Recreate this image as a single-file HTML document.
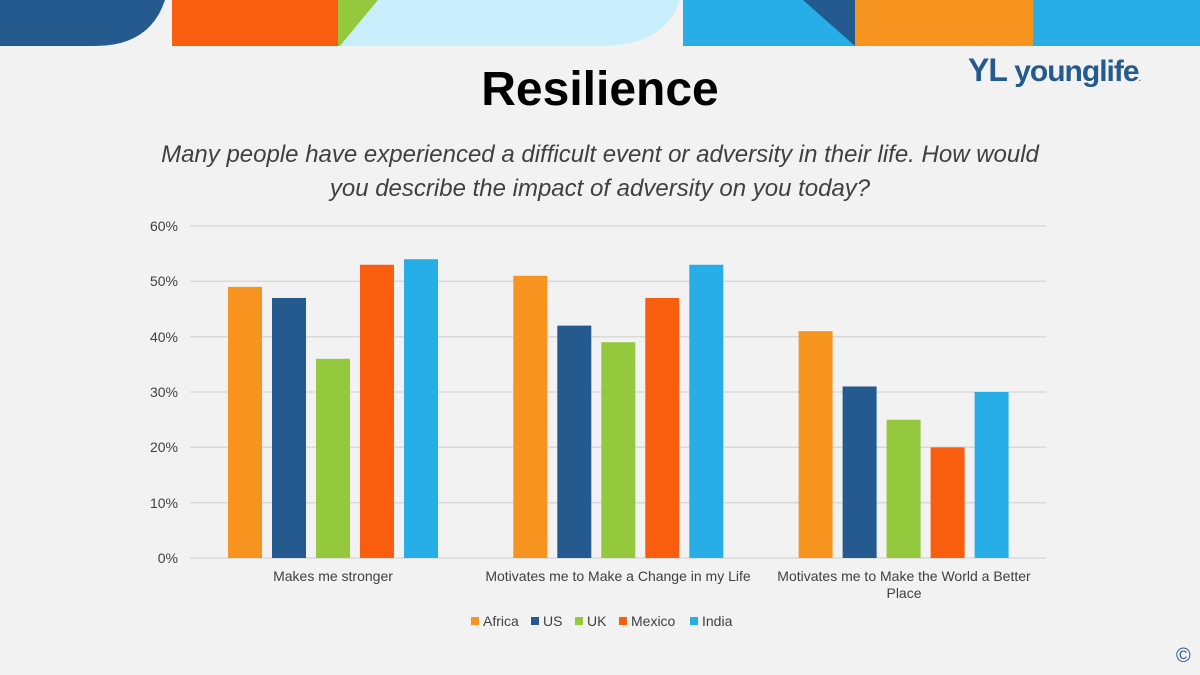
<!DOCTYPE html>
<html><head><style>
body{margin:0;width:1200px;height:675px;background:#f2f2f2;position:relative;overflow:hidden;font-family:"Liberation Sans",sans-serif}
.t{position:absolute}
</style></head><body>
<svg class="t" style="left:0;top:0" width="1200" height="675">
<path d="M0 0H165Q150 46 95 46H0Z" fill="#245a8e"/>
<rect x="172" y="0" width="166" height="46" fill="#f95e0e"/>
<path d="M338 0H378L340 46H338Z" fill="#94c83d"/>
<path d="M378 0H680Q665 46 600 46H340Z" fill="#c9eefc"/>
<rect x="683" y="0" width="172" height="46" fill="#27aee6"/>
<path d="M803 0H855V46Z" fill="#245a8e"/>
<rect x="855" y="0" width="178" height="46" fill="#f7941f"/>
<rect x="1033" y="0" width="167" height="46" fill="#27aee6"/>
<g stroke="#d9d9d9" stroke-width="1.5">
<line x1="190" x2="1046" y1="226" y2="226"/><line x1="190" x2="1046" y1="281.3" y2="281.3"/>
<line x1="190" x2="1046" y1="336.7" y2="336.7"/><line x1="190" x2="1046" y1="392" y2="392"/>
<line x1="190" x2="1046" y1="447.3" y2="447.3"/><line x1="190" x2="1046" y1="502.7" y2="502.7"/>
<line x1="190" x2="1046" y1="558" y2="558"/></g>
<g font-size="14" fill="#404040" text-anchor="end">
<text x="178" y="231">60%</text><text x="178" y="286">50%</text><text x="178" y="342">40%</text>
<text x="178" y="397">30%</text><text x="178" y="452">20%</text><text x="178" y="508">10%</text><text x="178" y="563">0%</text></g>
<g id="bars"></g>
<g font-size="14" fill="#404040" text-anchor="middle">
<text x="333" y="581">Makes me stronger</text>
<text x="618" y="581">Motivates me to Make a Change in my Life</text>
<text x="904" y="581">Motivates me to Make the World a Better</text>
<text x="904" y="598">Place</text></g>
<g font-size="14" fill="#404040">
<rect x="471" y="617" width="8" height="8" fill="#f7941f"/><text x="483" y="626">Africa</text>
<rect x="531" y="617" width="8" height="8" fill="#245a8e"/><text x="543" y="626">US</text>
<rect x="575" y="617" width="8" height="8" fill="#94c83d"/><text x="587" y="626">UK</text>
<rect x="619" y="617" width="8" height="8" fill="#f95e0e"/><text x="631" y="626">Mexico</text>
<rect x="690" y="617" width="8" height="8" fill="#27aee6"/><text x="702" y="626">India</text></g>
</svg>
<div class="t" style="left:0;width:1200px;top:62px;text-align:center;font-size:48px;font-weight:bold;color:#000">Resilience</div>
<div class="t" style="left:50px;width:1100px;top:138px;text-align:center;font-size:24px;font-style:italic;color:#404040;line-height:34px">Many people have experienced a difficult event or adversity in their life. How would<br>you describe the impact of adversity on you today?</div>
<div class="t" style="left:968px;top:52px;font-size:30px;font-weight:bold;color:#245a8e;letter-spacing:-1px"><span style="font-size:32px">YL</span> younglife<span style="font-size:8px">.</span></div>
<div class="t" style="left:1176px;top:645px;font-size:20px;color:#245a8e">©</div>
<script>
var d=[[49,47,36,53,54],[51,42,39,47,53],[41,31,25,20,30]],c=["#f7941f","#245a8e","#94c83d","#f95e0e","#27aee6"],s="";
for(var g=0;g<3;g++)for(var i=0;i<5;i++){var h=d[g][i]*5.533;s+='<rect x="'+(228+g*285.3+i*44)+'" y="'+(558-h)+'" width="34" height="'+h+'" fill="'+c[i]+'"/>';}
document.getElementById("bars").innerHTML=s;
</script>
</body></html>
